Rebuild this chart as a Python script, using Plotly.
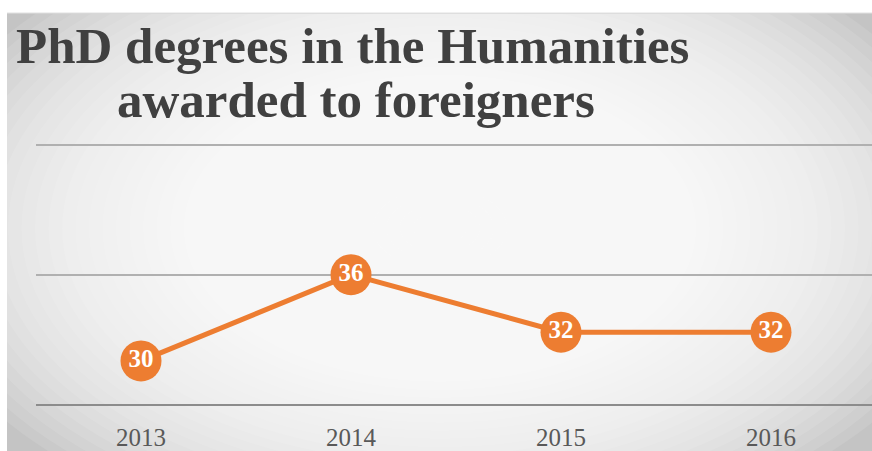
import plotly.graph_objects as go

years = ["2013", "2014", "2015", "2016"]
phd_counts = [30, 36, 32, 32]
title_lines = ["PhD degrees in the Humanities", "awarded to foreigners"]

W, H = 872, 451
UNIT = 263 / 18.0          # pixels per value unit (27 -> 409, 45 -> 146)
YMIN, YMAX = 27, 46
L, R, B = 36, 0, 42
T = int(round(409 - (YMAX - YMIN) * UNIT))
PW = W - L - R
PH = H - T - B

def px(x):
    return (x - L) / PW

def py(y):
    return (H - B - y) / PH

fig = go.Figure()
fig.add_trace(go.Scatter(
    x=years, y=phd_counts, mode="lines+markers+text",
    text=[str(v) for v in phd_counts], textposition="middle center",
    textfont=dict(family="Liberation Serif", size=25, color="white", weight="bold"),
    line=dict(color="#ED7D31", width=5),
    marker=dict(size=41, color="#ED7D31"),
    cliponaxis=False, hoverinfo="skip", showlegend=False,
))

shapes = []
shapes.append(dict(type="rect", xref="paper", yref="paper", x0=px(7), x1=px(880),
                   y0=py(460), y1=py(11), fillcolor="#c4c4c4", line=dict(width=0), layer="below"))
N = 40
cx, cy = 440, 230
RX, RY = 540, 330
for k in range(N, 0, -1):
    f = k / N
    shapes.append(dict(type="circle", xref="paper", yref="paper",
                       x0=px(cx - RX * f), x1=px(cx + RX * f),
                       y0=py(cy + RY * f), y1=py(cy - RY * f),
                       fillcolor="rgba(255,255,255,0.1)", line=dict(width=0), layer="below"))
shapes.append(dict(type="line", xref="paper", yref="paper", x0=px(7), x1=px(880),
                   y0=py(11), y1=py(11), line=dict(color="#d4d4d4", width=1), layer="below"))

annotations = []
for line, (cxp, cyp) in zip(title_lines, [(352, 44), (356, 99)]):
    annotations.append(dict(text=line, xref="paper", yref="paper", x=px(cxp), y=py(cyp),
                            xanchor="center", yanchor="middle", showarrow=False,
                            font=dict(family="Liberation Serif", size=51, color="#404040", weight="bold")))

fig.update_layout(
    width=W, height=H,
    margin=dict(l=L, r=R, t=T, b=B, pad=0),
    paper_bgcolor="white", plot_bgcolor="rgba(0,0,0,0)",
    shapes=shapes, annotations=annotations,
    xaxis=dict(type="category", range=[-0.5, 3.5 - 4 * 4 / 840], showgrid=False, zeroline=False,
               showline=True, linecolor="#8c8c8c", linewidth=2,
               tickfont=dict(family="Liberation Serif", size=25, color="#595959"),
               ticks="", ticklabelstandoff=10, fixedrange=True),
    yaxis=dict(range=[YMIN, YMAX], tick0=0, dtick=9, showgrid=True, gridcolor="#b0b0b0", gridwidth=1.5,
               zeroline=False, showticklabels=False, showline=False, fixedrange=True),
    showlegend=False,
)

fig.write_html("out.html", config={"displayModeBar": False},
               post_script="document.body.style.margin='0';document.body.style.overflow='hidden';")
